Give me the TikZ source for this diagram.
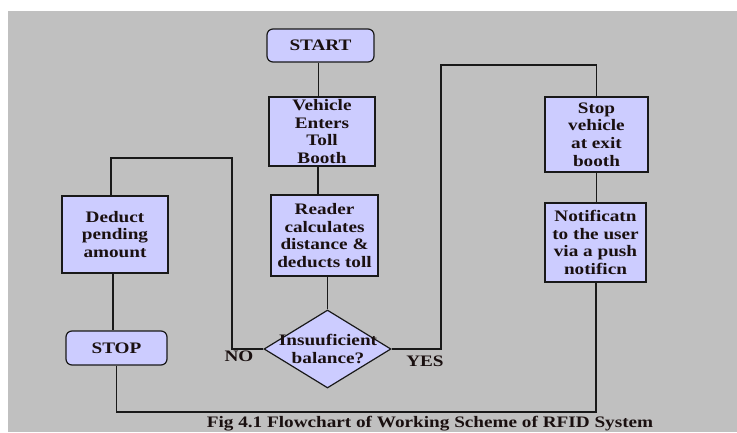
\documentclass[tikz,border=0pt]{standalone}
\usepackage{fontspec}
\setmainfont{Liberation Serif}[FakeStretch=1.2]
\usetikzlibrary{shapes.geometric}
\definecolor{bggray}{HTML}{C0C0C0}
\definecolor{boxfill}{HTML}{CCCCFF}
\definecolor{txt}{HTML}{1A1010}
\begin{document}
\begin{tikzpicture}[x=1pt,y=-1pt,
  font=\fontsize{16}{17.7}\selectfont\bfseries,
  every node/.style={text=txt},
  procbox/.style={draw=black!90,fill=boxfill,line width=1.2pt,inner sep=0pt,align=center},
  termbox/.style={procbox,rounded corners=6pt},
  decbox/.style={draw=black!90,fill=boxfill,line width=1.2pt,diamond,inner sep=0pt,align=center},
  link/.style={draw=black!90,line width=1.2pt}]
\useasboundingbox (0,0) rectangle (737,432);
\fill[white] (0,0) rectangle (737,432);
\fill[bggray] (8,11) rectangle (737,432);

\node[termbox,minimum width=107pt,minimum height=33pt] (start) at (320.5,45.5) {START};
\node[procbox,minimum width=106pt,minimum height=69pt] (veh) at (322,131.5) {Vehicle\\Enters\\Toll\\Booth};
\node[procbox,minimum width=107pt,minimum height=81pt] (rdr) at (324.5,235.5) {Reader\\calculates\\distance \&\\deducts toll};
\node[decbox,minimum width=127pt,minimum height=78pt,aspect=1.63] (dia) at (327.5,349) {};
\node[align=center] (diatext) at (328,349) {Insuuficient\\balance?};
\node[procbox,minimum width=106pt,minimum height=77pt] (ded) at (115,234.5) {Deduct\\pending\\amount};
\node[termbox,minimum width=101pt,minimum height=34pt] (stop) at (116.5,348) {STOP};
\node[procbox,minimum width=103pt,minimum height=75pt] (stv) at (596.5,134.5) {Stop\\vehicle\\at exit\\booth};
\node[procbox,minimum width=101pt,minimum height=79pt] (ntf) at (595.5,242.5) {Notificatn\\to the user\\via a push\\notificn};

\coordinate (n1) at (232,158);
\coordinate (y1) at (441,65);
\coordinate (b1) at (596,412);

\draw[link] ([xshift=-2pt]start.south) -- ([xshift=-2pt]start.south |- veh.north);
\draw[link] ([xshift=-4pt]veh.south) -- ([xshift=-4pt]veh.south |- rdr.north);
\draw[link] (rdr.south -| dia.north) -- (dia.north);
\draw[link] (dia.west) -| (n1) -| ([xshift=-4pt]ded.north);
\draw[link] ([xshift=-2pt]ded.south) -- ([xshift=-2pt]ded.south |- stop.north);
\draw[link] (dia.east) -| (y1) -| (stv.north);
\draw[link] (stv.south) -- (stv.south |- ntf.north);
\draw[link] (stop.south) |- (b1) -- (ntf.south -| b1);

\node (no) at (239,356) {NO};
\node (yes) at (425,361) {YES};
\node (cap) at (430,424) {Fig 4.1 Flowchart of Working Scheme of RFID System};
\end{tikzpicture}
\end{document}
